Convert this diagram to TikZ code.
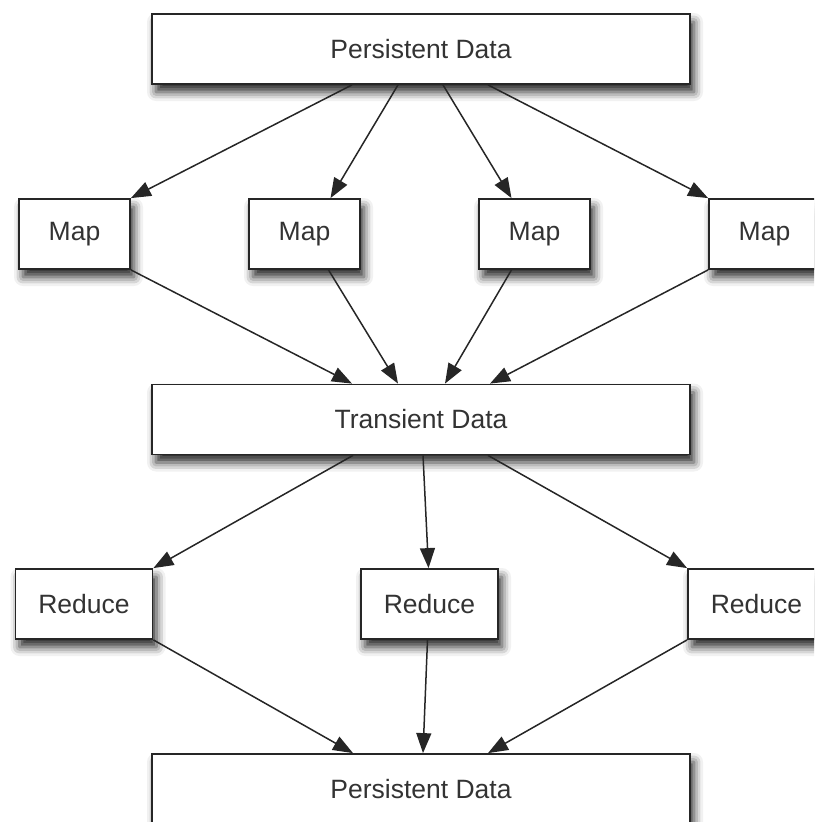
\documentclass[tikz,border=0pt]{standalone}
\usepackage{fontspec}
\setmainfont{Liberation Sans}
\usetikzlibrary{arrows.meta,shadows.blur}
\begin{document}
\begin{tikzpicture}[x=1pt,y=-1pt,
  box/.style={draw=black!85, line width=1.8pt, fill=white, rectangle, inner sep=0pt,
    minimum height=70pt, font=\fontsize{26.5}{30}\selectfont, text=black!80,
    blur shadow={shadow xshift=4pt, shadow yshift=-8pt, shadow blur radius=9pt, shadow opacity=85}},
  wide/.style={box, minimum width=538pt},
  mapbox/.style={box, minimum width=111pt},
  redbox/.style={box, minimum width=137pt},
  conn/.style={draw=black!85, line width=1.5pt, -{Triangle[length=20pt,width=15pt]}}]
\useasboundingbox (0,0) rectangle (814,822);
\clip (0,0) rectangle (814,822);
\node[wide] (top) at (421,49) {Persistent Data};
\node[mapbox] (m1) at (74.5,234) {Map};
\node[mapbox] (m2) at (304.5,234) {Map};
\node[mapbox] (m3) at (534.5,234) {Map};
\node[mapbox] (m4) at (764.5,234) {Map};
\node[wide] (tr) at (421,419.5) {Transient Data};
\node[redbox] (r1) at (84,604) {Reduce};
\node[redbox] (r2) at (429.5,604) {Reduce};
\node[redbox] (r3) at (756.5,604) {Reduce};
\node[wide] (bot) at (421,789) {Persistent Data};
% top -> maps
\draw[conn] ([xshift=-69pt]top.south) -- (m1.north east);
\draw[conn] ([xshift=-23pt]top.south) -- ([xshift=26pt]m2.north);
\draw[conn] ([xshift=22pt]top.south) -- ([xshift=-23pt]m3.north);
\draw[conn] ([xshift=67pt]top.south) -- (m4.north west);
% maps -> transient
\draw[conn] (m1.south east) -- ([xshift=-69pt]tr.north);
\draw[conn] ([xshift=24pt]m2.south) -- ([xshift=-23pt]tr.north);
\draw[conn] ([xshift=-23pt]m3.south) -- ([xshift=24pt]tr.north);
\draw[conn] (m4.south west) -- ([xshift=69pt]tr.north);
% transient -> reduces
\draw[conn] ([xshift=-68pt]tr.south) -- (r1.north east);
\draw[conn] ([xshift=2pt]tr.south) -- ([xshift=-1pt]r2.north);
\draw[conn] ([xshift=67pt]tr.south) -- (r3.north west);
% reduces -> bottom
\draw[conn] (r1.south east) -- ([xshift=-68pt]bot.north);
\draw[conn] ([xshift=-2pt]r2.south) -- ([xshift=2pt]bot.north);
\draw[conn] (r3.south west) -- ([xshift=67pt]bot.north);
\end{tikzpicture}
\end{document}
